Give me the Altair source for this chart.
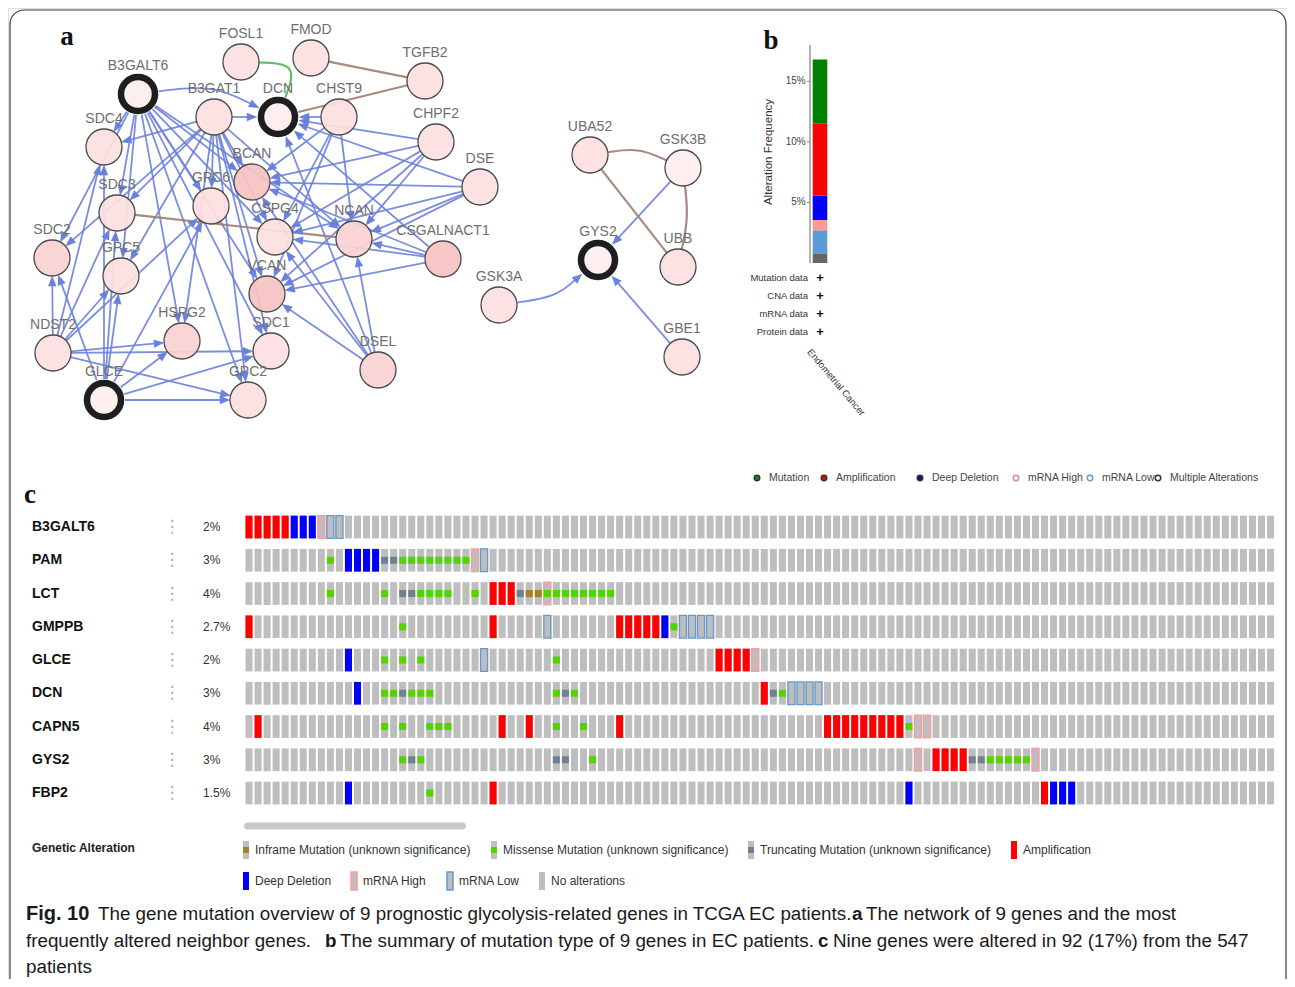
import math
import altair as alt
import pandas as pd

# ===================== Panel a: network (node positions) =====================
NODE_NAMES = ["FOSL1", "FMOD", "TGFB2", "B3GALT6", "B3GAT1", "DCN", "CHST9", "CHPF2",
              "SDC4", "BCAN", "DSE", "GPC6", "SDC3", "CSPG4", "NCAN", "CSGALNACT1",
              "SDC2", "GPC5", "VCAN", "GSK3A", "HSPG2", "SDC1", "NDST2", "DSEL",
              "GLCE", "GPC2", "UBA52", "GSK3B", "GYS2", "UBB", "GBE1"]
NODE_X = [241, 311, 425, 138, 214, 278, 339, 436,
          104, 252, 480, 211, 117, 275, 354, 443,
          52, 121, 267, 499, 182, 271, 53, 378,
          104, 248, 590, 683, 598, 678, 682]
NODE_Y = [62, 58, 81, 94, 117, 117, 117, 142,
          147, 182, 187, 206, 213, 237, 239, 259,
          258, 276, 294, 305, 341, 351, 353, 370,
          400, 400, 155, 168, 260, 267, 357]
NODE_SHADE = [1, 1, 1, 0, 1, 0, 1, 1,
              1, 3, 1, 1, 1, 1, 2, 3,
              2, 1, 3, 1, 2, 1, 1, 2,
              0, 1, 1, 0, 0, 1, 1]
QUERY_GENES = ["B3GALT6", "DCN", "GLCE", "GYS2"]

ARROWS_FROM = {
    "B3GALT6": ["SDC4", "SDC3", "SDC2", "GPC5", "GPC6", "HSPG2", "SDC1", "GPC2",
                "BCAN", "CSPG4", "NCAN", "VCAN", "DCN"],
    "B3GAT1": ["SDC4", "SDC3", "SDC2", "GPC5", "GPC6", "HSPG2", "SDC1", "GPC2",
               "BCAN", "CSPG4", "NCAN", "VCAN", "DCN"],
    "NDST2": ["SDC4", "SDC3", "SDC2", "GPC5", "GPC6", "HSPG2", "SDC1", "GPC2"],
    "GLCE": ["SDC4", "SDC3", "SDC2", "GPC5", "GPC6", "HSPG2", "SDC1", "GPC2"],
    "CHST9": ["DCN", "BCAN", "CSPG4", "NCAN", "VCAN"],
    "CHPF2": ["DCN", "BCAN", "CSPG4", "NCAN", "VCAN"],
    "DSE": ["DCN", "BCAN", "CSPG4", "NCAN", "VCAN"],
    "CSGALNACT1": ["DCN", "BCAN", "CSPG4", "NCAN", "VCAN"],
    "DSEL": ["DCN", "BCAN", "CSPG4", "NCAN", "VCAN"],
    "GSK3B": ["GYS2"],
    "GSK3A": ["GYS2"],
    "GBE1": ["GYS2"],
}
BROWN_LINKS = [("FMOD", "TGFB2"), ("TGFB2", "DCN"), ("SDC3", "NCAN"),
               ("UBA52", "GSK3B"), ("UBA52", "UBB"), ("GSK3B", "UBB")]
GREEN_LINKS = [("FOSL1", "DCN")]

# ===================== Panel b: alteration frequency =====================
B_TYPES = ["Multiple Alterations", "mRNA Low", "mRNA High", "Deep Deletion",
           "Amplification", "Mutation"]
B_FREQ = [0.8, 1.9, 0.85, 2.0, 5.95, 5.3]
B_TICKS = [5, 10, 15]
B_DATA_ROWS = ["Mutation data", "CNA data", "mRNA data", "Protein data"]
B_CANCER = "Endometrial Cancer"
B_LEGEND = ["Mutation", "Amplification", "Deep Deletion", "mRNA High", "mRNA Low",
            "Multiple Alterations"]

# ===================== Panel c: oncoprint =====================
GENES = ["B3GALT6", "PAM", "LCT", "GMPPB", "GLCE", "DCN", "CAPN5", "GYS2", "FBP2"]
GENE_PCT = ["2%", "3%", "4%", "2.7%", "2%", "3%", "4%", "3%", "1.5%"]
N_VISIBLE = 114
AMP_COLS = {
    "B3GALT6": [0, 1, 2, 3, 4],
    "LCT": [27, 28, 29],
    "GMPPB": [0, 27, 41, 42, 43, 44, 45],
    "GLCE": [52, 53, 54, 55],
    "DCN": [57],
    "CAPN5": [1, 28, 31, 41, 64, 65, 66, 67, 68, 69, 70, 71, 72],
    "GYS2": [76, 77, 78, 79],
    "FBP2": [27, 88],
}
DEL_COLS = {
    "B3GALT6": [5, 6, 7],
    "PAM": [11, 12, 13, 14],
    "GMPPB": [46],
    "GLCE": [11],
    "DCN": [12],
    "FBP2": [11, 73, 89, 90, 91],
}
MRNA_HIGH_COLS = {
    "B3GALT6": [8],
    "PAM": [25],
    "LCT": [33],
    "GLCE": [56],
    "CAPN5": [74, 75],
    "GYS2": [74, 87],
}
MRNA_LOW_COLS = {
    "B3GALT6": [9, 10],
    "PAM": [26],
    "GMPPB": [33, 48, 49, 50, 51],
    "GLCE": [26],
    "DCN": [60, 61, 62, 63],
}
MISSENSE_COLS = {
    "PAM": [9, 17, 18, 19, 20, 21, 22, 23, 24],
    "LCT": [9, 15, 19, 20, 21, 22, 25, 33, 34, 35, 36, 37, 38, 39, 40],
    "GMPPB": [17, 47],
    "GLCE": [15, 17, 19, 34],
    "DCN": [15, 16, 18, 19, 20, 34, 36, 59],
    "CAPN5": [15, 17, 20, 21, 22, 34, 37, 73],
    "GYS2": [17, 19, 38, 82, 83, 84, 85, 86],
    "FBP2": [20],
}
TRUNC_COLS = {
    "PAM": [15, 16],
    "LCT": [17, 18, 30],
    "DCN": [17, 35, 58],
    "GYS2": [18, 34, 35, 80, 81],
}
INFRAME_COLS = {"LCT": [31, 32]}
C_LEGEND = ["Inframe Mutation (unknown significance)", "Missense Mutation (unknown significance)",
            "Truncating Mutation (unknown significance)", "Amplification",
            "Deep Deletion", "mRNA High", "mRNA Low", "No alterations"]

CAPTION_FIG = "Fig. 10"
CAPTION_BOLD = ["a", "b", "c"]
CAPTION_NORMAL = [
    "The gene mutation overview of 9 prognostic glycolysis-related genes in TCGA EC patients.",
    "The network of 9 genes and the most",
    "frequently altered neighbor genes.",
    "The summary of mutation type of 9 genes in EC patients.",
    "Nine genes were altered in 92 (17%) from the 547",
    "patients",
]

# ===================== styles & layout =====================
SANS = "Liberation Sans"
SERIF = "Liberation Serif"
SHADE_COLORS = ["#fdeeee", "#fce0e0", "#f9d2d2", "#f6c3c3"]
EDGE_STYLE = {"arrow": ("#6b82dc", 1.8), "brown": ("#9c7e72", 2.2), "green": ("#55b455", 2.2)}
EDGE_BEND = {("FOSL1", "DCN"): -0.7, ("B3GALT6", "DCN"): -0.15, ("GSK3A", "GYS2"): 0.15,
             ("UBA52", "GSK3B"): -0.15, ("GSK3B", "UBB"): -0.08}
ARROW_PATH = "M0,-1L0.8,1L-0.8,1Z"
ALT_COLORS = {"Mutation": "#008000", "Amplification": "#ff0000", "Deep Deletion": "#0000ff",
              "mRNA High": "#ff9999", "mRNA Low": "#5b9bd5", "Multiple Alterations": "#666666"}
LEG_B_FILL = {"Mutation": "#138a13", "Amplification": "#e01010", "Deep Deletion": "#10108a",
              "mRNA High": "#ffffff", "mRNA Low": "#ffffff", "Multiple Alterations": "#ffffff"}
LEG_B_STROKE = {"Mutation": "#333333", "Amplification": "#333333", "Deep Deletion": "#333333",
                "mRNA High": "#d98c8c", "mRNA Low": "#6b9ac4", "Multiple Alterations": "#333333"}
LEG_B_X = [757, 824, 920, 1016, 1090, 1158]
LEG_B_Y = 478
LEG_C_X = [246, 494, 751, 1014, 246, 354, 450, 542]
LEG_C_Y = [850, 850, 850, 850, 881, 881, 881, 881]
GRAY = "#bebebe"
CAPTION_FIG_POS = (26, 914)
CAPTION_BOLD_POS = [(852, 914), (325, 941), (818, 941)]
CAPTION_NORMAL_POS = [(98, 914), (866, 914), (26, 941), (340, 941), (833, 941), (26, 967)]
CAPTION_SIZE = 18.8

# canvas scales map picture pixels -> chart pixels (page margin 8px)
CX = alt.Scale(domain=[8, 1287], range=[0, 1279], nice=False, zero=False)
CY = alt.Scale(domain=[8, 979], range=[0, 971], nice=False, zero=False)


def X(f):
    return alt.X(f"{f}:Q", scale=CX, axis=None)


def Y(f):
    return alt.Y(f"{f}:Q", scale=CY, axis=None)


def text_layer(rows, **mark):
    df = pd.DataFrame(rows, columns=["t", "x", "y"])
    return alt.Chart(df).mark_text(**mark).encode(x=X("x"), y=Y("y"), text="t:N")


# ---------------- network geometry ----------------
pos = dict(zip(NODE_NAMES, zip(NODE_X, NODE_Y)))


def radius(n):
    return 21 if n in QUERY_GENES else 18


edge_list = []
for src, tgts in ARROWS_FROM.items():
    for t in tgts:
        edge_list.append((src, t, "arrow"))
for a, b in BROWN_LINKS:
    edge_list.append((a, b, "brown"))
for a, b in GREEN_LINKS:
    edge_list.append((a, b, "green"))

line_rows, head_rows = [], []
for eid, (a, b, kind) in enumerate(edge_list):
    x0, y0 = pos[a]
    x1, y1 = pos[b]
    dx, dy = x1 - x0, y1 - y0
    bend = EDGE_BEND.get((a, b), 0.0)
    mx = (x0 + x1) / 2 - bend * dy
    my = (y0 + y1) / 2 + bend * dx
    ux, uy = mx - x0, my - y0
    ul = math.hypot(ux, uy)
    ux, uy = ux / ul, uy / ul
    vx, vy = x1 - mx, y1 - my
    vl = math.hypot(vx, vy)
    vx, vy = vx / vl, vy / vl
    arrow = kind == "arrow"
    sx, sy = x0 + ux * radius(a), y0 + uy * radius(a)
    gap = radius(b) + (8 if arrow else 0)
    ex, ey = x1 - vx * gap, y1 - vy * gap
    pts = [(sx, sy), (mx, my), (ex, ey)] if bend else [(sx, sy), (ex, ey)]
    color, width = EDGE_STYLE[kind]
    for k, (qx, qy) in enumerate(pts):
        line_rows.append(dict(eid=eid, seq=k, x=qx, y=qy, c=color, w=width))
    if arrow:
        head_rows.append(dict(x=x1 - vx * (radius(b) + 5), y=y1 - vy * (radius(b) + 5),
                              ang=math.degrees(math.atan2(vx, -vy)) % 360, c=color))

df_lines = pd.DataFrame(line_rows)
df_heads = pd.DataFrame(head_rows)
df_nodes = pd.DataFrame({"name": NODE_NAMES, "x": NODE_X, "y": NODE_Y,
                         "f": [SHADE_COLORS[s] for s in NODE_SHADE]})
df_query = df_nodes[df_nodes["name"].isin(QUERY_GENES)]

edges = alt.Chart(df_lines).mark_line(interpolate="basis", opacity=0.9).encode(
    x=X("x"), y=Y("y"), detail="eid:N", order=alt.Order("seq:Q"),
    color=alt.Color("c:N", scale=None), strokeWidth=alt.StrokeWidth("w:Q", scale=None))
heads = alt.Chart(df_heads).mark_point(shape=ARROW_PATH, filled=True, size=110, opacity=1).encode(
    x=X("x"), y=Y("y"), angle=alt.Angle("ang:Q", scale=None), color=alt.Color("c:N", scale=None))
nodes = alt.Chart(df_nodes).mark_circle(size=1296, opacity=1, fillOpacity=0.93,
                                        stroke="#4a4a4a", strokeWidth=1.3).encode(
    x=X("x"), y=Y("y"), fill=alt.Fill("f:N", scale=None))
rings = alt.Chart(df_query).mark_point(size=1156, filled=False, strokeWidth=6.5,
                                       color="#1e1e1e", opacity=1).encode(x=X("x"), y=Y("y"))
node_labels = alt.Chart(df_nodes).mark_text(fontSize=14, font=SANS, color="#6e6e6e",
                                            dy=-28.5).encode(x=X("x"), y=Y("y"), text="name:N")

frame = alt.Chart(pd.DataFrame({"x": [10], "x2": [1286], "y": [10], "y2": [1010]})).mark_rect(
    fillOpacity=0, stroke="#3a3a3a", strokeWidth=1.2, cornerRadius=14).encode(
    x=X("x"), x2="x2:Q", y=Y("y"), y2="y2:Q")

letters = text_layer([("a", 67, 37), ("b", 771, 41), ("c", 30, 495)],
                     font=SERIF, fontWeight="bold", fontSize=27, color="#111111",
                     align="center", baseline="middle")

# ---------------- panel b side texts & legend (canvas) ----------------
b_ylab = text_layer([("Alteration Frequency", 769, 152)], font=SANS, fontSize=11.5,
                    color="#333333", angle=270, align="center", baseline="middle")
b_rows = text_layer([(r, 808, y) for r, y in zip(B_DATA_ROWS, [278, 296, 314, 332])],
                    font=SANS, fontSize=9.5, color="#333333", align="right", baseline="middle")
b_plus = text_layer([("+", 820, y) for y in [278, 296, 314, 332]],
                    font=SANS, fontSize=13, fontWeight="bold", color="#111111",
                    align="center", baseline="middle")
b_cancer = text_layer([(B_CANCER, 813, 347)], font=SANS, fontSize=9.5, color="#333333",
                      angle=50, align="left", baseline="top")

df_legb = pd.DataFrame({"t": B_LEGEND, "x": LEG_B_X, "y": [LEG_B_Y] * len(B_LEGEND),
                        "f": [LEG_B_FILL[k] for k in B_LEGEND],
                        "s": [LEG_B_STROKE[k] for k in B_LEGEND]})
legb_dots = alt.Chart(df_legb).mark_circle(size=30, opacity=1, strokeWidth=1.5).encode(
    x=X("x"), y=Y("y"), fill=alt.Fill("f:N", scale=None), stroke=alt.Stroke("s:N", scale=None))
legb_text = text_layer([(t, x + 12, LEG_B_Y) for t, x in zip(B_LEGEND, LEG_B_X)],
                       font=SANS, fontSize=10.5, color="#444444", align="left", baseline="middle")

# ---------------- panel c legend (canvas) ----------------
C_KIND = ["Inframe", "Missense", "Truncating", "Amplification", "Deep Deletion",
          "mRNA High", "mRNA Low", "No alterations"]
base_rows, sq_rows, out_rows = [], [], []
for kind, gx, gy in zip(C_KIND, LEG_C_X, LEG_C_Y):
    fill = {"Amplification": "#ff0000", "Deep Deletion": "#0000ff"}.get(kind, GRAY)
    base_rows.append(dict(x=gx - 3, x2=gx + 3, y=gy - 9, y2=gy + 9, f=fill))
    if kind in ("Inframe", "Missense", "Truncating"):
        c = {"Inframe": "#a68028", "Missense": "#53d400", "Truncating": "#708090"}[kind]
        sq_rows.append(dict(x=gx - 3, x2=gx + 3, y=gy - 3, y2=gy + 3, f=c))
    if kind in ("mRNA High", "mRNA Low"):
        c = {"mRNA High": "#ff9999", "mRNA Low": "#6699cc"}[kind]
        out_rows.append(dict(x=gx - 3, x2=gx + 3, y=gy - 9, y2=gy + 9, s=c))
legc_base = alt.Chart(pd.DataFrame(base_rows + sq_rows)).mark_rect().encode(
    x=X("x"), x2="x2:Q", y=Y("y"), y2="y2:Q", fill=alt.Fill("f:N", scale=None))
legc_out = alt.Chart(pd.DataFrame(out_rows)).mark_rect(fillOpacity=0, strokeWidth=1.5).encode(
    x=X("x"), x2="x2:Q", y=Y("y"), y2="y2:Q", stroke=alt.Stroke("s:N", scale=None))
legc_text = text_layer([(t, x + 9, y) for t, x, y in zip(C_LEGEND, LEG_C_X, LEG_C_Y)],
                       font=SANS, fontSize=12, color="#333333", align="left", baseline="middle")
legc_title = text_layer([("Genetic Alteration", 32, 848)], font=SANS, fontSize=12,
                        fontWeight="bold", color="#222222", align="left", baseline="middle")
scrollbar = alt.Chart(pd.DataFrame({"x": [244], "x2": [466], "y": [822.5], "y2": [829.5]})).mark_rect(
    color="#c8c8c8", cornerRadius=3.5).encode(x=X("x"), x2="x2:Q", y=Y("y"), y2="y2:Q")

cap_fig = text_layer([(CAPTION_FIG, CAPTION_FIG_POS[0], CAPTION_FIG_POS[1])],
                     font=SANS, fontSize=20, fontWeight="bold", color="#1a1a1a",
                     align="left", baseline="middle")
cap_bold = text_layer([(t, x, y) for t, (x, y) in zip(CAPTION_BOLD, CAPTION_BOLD_POS)],
                      font=SANS, fontSize=CAPTION_SIZE, fontWeight="bold", color="#1a1a1a",
                      align="left", baseline="middle")
cap_norm = text_layer([(t, x, y) for t, (x, y) in zip(CAPTION_NORMAL, CAPTION_NORMAL_POS)],
                      font=SANS, fontSize=CAPTION_SIZE, color="#1a1a1a", align="left",
                      baseline="middle")

canvas = alt.layer(frame, edges, heads, nodes, rings, node_labels, letters,
                   b_ylab, b_rows, b_plus, b_cancer, legb_dots, legb_text,
                   scrollbar, legc_base, legc_out, legc_text, legc_title,
                   cap_fig, cap_bold, cap_norm)

# ---------------- panel b bar (own scales) ----------------
BX = alt.Scale(domain=[0, 1], range=[802, 820], nice=False, zero=False)
BY = alt.Scale(domain=[0, 18], range=[255, 37], nice=False, zero=False)
df_b = pd.DataFrame({"type": B_TYPES, "freq": B_FREQ, "order": list(range(len(B_TYPES)))})
bar = alt.Chart(df_b).transform_window(
    cum="sum(freq)", sort=[alt.SortField("order")], frame=[None, 0]
).transform_calculate(lo="datum.cum - datum.freq").mark_rect().encode(
    x=alt.XDatum(0.15, type="quantitative", scale=BX, axis=None),
    x2=alt.X2Datum(0.96),
    y=alt.Y("lo:Q", scale=BY, axis=None), y2="cum:Q",
    color=alt.Color("type:N", scale=alt.Scale(domain=B_TYPES,
                                              range=[ALT_COLORS[t] for t in B_TYPES]),
                    legend=None))
b_axis = alt.Chart(pd.DataFrame({"lo": [0], "hi": [18]})).mark_rule(
    color="#8a8a8a", strokeWidth=1.3).encode(
    x=alt.XDatum(0, type="quantitative", scale=BX, axis=None),
    y=alt.Y("lo:Q", scale=BY, axis=None), y2="hi:Q")
df_bt = pd.DataFrame({"v": B_TICKS, "lab": [f"{v}%" for v in B_TICKS]})
b_ticks = alt.Chart(df_bt).mark_rule(color="#8a8a8a", strokeWidth=1).encode(
    x=alt.XDatum(-0.17, type="quantitative", scale=BX, axis=None), x2=alt.X2Datum(0),
    y=alt.Y("v:Q", scale=BY, axis=None))
b_tlab = alt.Chart(df_bt).mark_text(font=SANS, fontSize=10, color="#444444",
                                    align="right", baseline="middle").encode(
    x=alt.XDatum(-0.24, type="quantitative", scale=BX, axis=None),
    y=alt.Y("v:Q", scale=BY, axis=None), text="lab:N")
panel_b = alt.layer(bar, b_axis, b_ticks, b_tlab)

# ---------------- panel c oncoprint (own scales) ----------------
PX = alt.Scale(domain=list(range(N_VISIBLE)), range=[236.5, 1267.06],
               paddingInner=0.22, paddingOuter=0.11)
PY = alt.Scale(domain=GENES, range=[502.4, 801.65], paddingInner=0.317, paddingOuter=0.1585)


def expand(dct, label):
    return [dict(gene=g, col=c, type=label) for g, cols in dct.items() for c in cols]


cells = pd.DataFrame([dict(gene=g, col=c) for g in GENES for c in range(N_VISIBLE)])
cna = pd.DataFrame(expand(AMP_COLS, "Amplification") + expand(DEL_COLS, "Deep Deletion"))
mrna = pd.DataFrame(expand(MRNA_HIGH_COLS, "mRNA High") + expand(MRNA_LOW_COLS, "mRNA Low"))
mut = pd.DataFrame(expand(MISSENSE_COLS, "Missense") + expand(TRUNC_COLS, "Truncating")
                   + expand(INFRAME_COLS, "Inframe"))
OX = alt.X("col:O", scale=PX, axis=None)
OY = alt.Y("gene:N", scale=PY, axis=None)

gray_l = alt.Chart(cells).mark_rect(color=GRAY).encode(x=OX, y=OY)
cna_l = alt.Chart(cna).mark_rect().encode(
    x=OX, y=OY, color=alt.Color("type:N", scale=alt.Scale(
        domain=["Amplification", "Deep Deletion"], range=["#ff0000", "#0000ff"]), legend=None))
mrna_l = alt.Chart(mrna).mark_rect(fillOpacity=0, strokeWidth=1.4).encode(
    x=OX, y=OY, stroke=alt.Stroke("type:N", scale=alt.Scale(
        domain=["mRNA High", "mRNA Low"], range=["#ff9999", "#6699cc"]), legend=None))
mut_l = alt.Chart(mut).mark_square(size=50, opacity=1).encode(
    x=OX, y=OY, color=alt.Color("type:N", scale=alt.Scale(
        domain=["Missense", "Truncating", "Inframe"],
        range=["#53d400", "#708090", "#a68028"]), legend=None))
df_rows = pd.DataFrame({"gene": GENES, "pct": GENE_PCT, "dots": ["\u22ee"] * len(GENES)})
glab = alt.Chart(df_rows).mark_text(font=SANS, fontSize=14, fontWeight="bold", color="#111111",
                                    align="left", baseline="middle").encode(
    x=alt.value(24), y=OY, text="gene:N")
gdots = alt.Chart(df_rows).mark_text(font="DejaVu Sans", fontSize=17, color="#aaaaaa",
                                     align="center", baseline="middle").encode(
    x=alt.value(164), y=OY, text="dots:N")
gpct = alt.Chart(df_rows).mark_text(font=SANS, fontSize=12, color="#333333",
                                    align="left", baseline="middle").encode(
    x=alt.value(195), y=OY, text="pct:N")
panel_c = alt.layer(gray_l, cna_l, mrna_l, mut_l, glab, gdots, gpct).resolve_scale(
    color="independent", stroke="independent")

chart = alt.layer(canvas, panel_b, panel_c).resolve_scale(
    x="independent", y="independent", color="independent", stroke="independent"
).properties(
    width=1279, height=971, padding=0, autosize=alt.AutoSizeParams(type="none")
).configure_view(stroke=None).configure(background="white")

chart.save("out.html", embed_options={"renderer": "svg", "actions": False})
